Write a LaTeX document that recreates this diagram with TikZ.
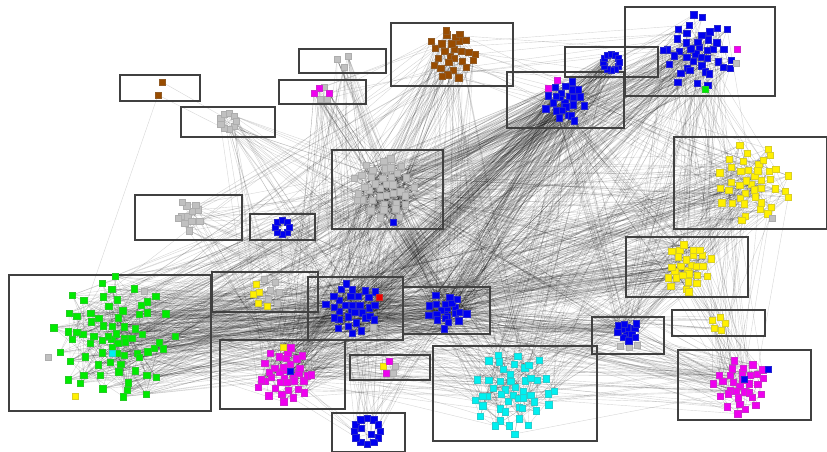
\documentclass[tikz,border=0pt]{standalone}
\definecolor{nbrown}{RGB}{153,76,0}
\definecolor{ngreen}{RGB}{0,235,0}
\definecolor{nblue}{RGB}{0,0,240}
\definecolor{nyellow}{RGB}{255,240,0}
\definecolor{nmag}{RGB}{240,0,240}
\definecolor{ncyan}{RGB}{0,240,240}
\definecolor{ngray}{RGB}{192,192,192}
\definecolor{nred}{RGB}{240,0,0}
\pgfdeclarelayer{bg}
\pgfdeclarelayer{edges}
\pgfsetlayers{bg,edges,main}
% name cx cy rx ry from to color exponent  (sunflower spread with jitter)
\newcommand\cluster[9]{%
  \foreach \i in {#6,...,#7}{%
    \pgfmathsetmacro\tt{(\i-#6+0.6)/(#7-#6+1)}%
    \pgfmathsetmacro\rr{\tt^#9}%
    \pgfmathsetmacro\ang{\i*137.508+rnd*25}%
    \pgfmathsetmacro\jx{rand*2}%
    \pgfmathsetmacro\jy{rand*2}%
    \node[sq=#8] (#1-\i) at ({#2+#4*\rr*cos(\ang)+\jx},{#3+#5*\rr*sin(\ang)+\jy}) {};
  }%
}
\newcommand\ringpts[6]{%
  \foreach \i in {1,...,#5}{%
    \node[sq=#6] (#1-\i) at ({#2+#4*cos(360*\i/#5)},{#3+#4*sin(360*\i/#5)}) {};
  }%
}
\newcommand\setcount[2]{\expandafter\xdef\csname cn#1\endcsname{#2}}
\newcommand\links[3]{%
  \edef\na{\csname cn#1\endcsname}\edef\nb{\csname cn#2\endcsname}%
  \foreach \e in {1,...,#3}{%
    \pgfmathtruncatemacro\ia{random(1,\na)}%
    \pgfmathtruncatemacro\ib{random(1,\nb)}%
    \draw[edge] (#1-\ia.center) -- (#2-\ib.center);
  }%
}
\begin{document}
\begin{tikzpicture}[x=0.03cm,y=-0.03cm,
  sq/.style={rectangle,fill=#1,draw=#1!70!gray,line width=0.25pt,minimum size=0.19cm,inner sep=0pt},
  edge/.style={draw=black,draw opacity=0.16,line width=0.35pt},
  grp/.style={draw=black!75,line width=0.9pt}]
\pgfmathsetseed{11}
\useasboundingbox (0,0) rectangle (827,452);
\begin{pgfonlayer}{bg}
\fill[white] (0,0) rectangle (827,452);
\end{pgfonlayer}
% group boxes
\draw[grp] (120,75) rectangle (200,101);
\draw[grp] (181,107) rectangle (275,137);
\draw[grp] (299,49) rectangle (386,73);
\draw[grp] (279,80) rectangle (366,104);
\draw[grp] (391,23) rectangle (513,86);
\draw[grp] (507,72) rectangle (624,128);
\draw[grp] (565,47) rectangle (658,77);
\draw[grp] (625,7) rectangle (775,96);
\draw[grp] (674,137) rectangle (826.6,229);
\draw[grp] (332,150) rectangle (443,229);
\draw[grp] (135,195) rectangle (242,240);
\draw[grp] (250,214) rectangle (315,240);
\draw[grp] (626,237) rectangle (748,297);
\draw[grp] (9,275) rectangle (211,411);
\draw[grp] (212,272) rectangle (318,312);
\draw[grp] (308,277) rectangle (403,340);
\draw[grp] (403,287) rectangle (490,334);
\draw[grp] (592,317) rectangle (664,354);
\draw[grp] (672,310) rectangle (765,336);
\draw[grp] (220,340) rectangle (345,409);
\draw[grp] (350,355) rectangle (430,380);
\draw[grp] (433,346) rectangle (597,441);
\draw[grp] (678,350) rectangle (811,420);
\draw[grp] (332,413) rectangle (405,451.6);
% A
\node[sq=nbrown] (A-1) at (162,82) {};
\node[sq=nbrown] (A-2) at (158,95) {};
\setcount{A}{2}
% B
\ringpts{B}{228}{121}{8}{9}{ngray}
\setcount{B}{9}
% C
\node[sq=ngray] (C-1) at (337,59) {};
\node[sq=ngray] (C-2) at (348,56) {};
\node[sq=ngray] (C-3) at (344,67) {};
\setcount{C}{3}
% D
\node[sq=ngray] (D-1) at (324,87) {};
\node[sq=ngray] (D-2) at (320,99) {};
\node[sq=ngray] (D-3) at (327,99) {};
\node[sq=nmag] (D-4) at (319,88) {};
\node[sq=nmag] (D-5) at (314,93) {};
\node[sq=nmag] (D-6) at (329,93) {};
\setcount{D}{6}
% E
\cluster{E}{452}{54}{25}{26}{1}{28}{nbrown}{0.6}
\setcount{E}{28}
% F
\cluster{F}{566}{101}{21}{21}{1}{24}{nblue}{0.6}
\node[sq=nmag] (F-m1) at (557,80) {};
\node[sq=nmag] (F-m2) at (548,88) {};
\setcount{F}{24}
% G
\ringpts{G}{611}{62}{8}{12}{nblue}
\setcount{G}{12}
% H
\cluster{H}{698}{52}{37}{38}{1}{42}{nblue}{0.65}
\node[sq=nmag] (H-m) at (737,49) {};
\node[sq=ngray] (H-g) at (736,63) {};
\node[sq=ngreen] (H-n) at (705,89) {};
\setcount{H}{42}
% I
\cluster{I}{752}{183}{38}{40}{1}{42}{nyellow}{0.65}
\node[sq=ngray] (I-g) at (772,218) {};
\setcount{I}{42}
% J
\cluster{J}{384}{188}{32}{32}{1}{38}{ngray}{0.6}
\node[sq=nblue] (J-b) at (393,222) {};
\setcount{J}{38}
% K
\cluster{K}{189}{216}{15}{15}{1}{12}{ngray}{0.6}
\setcount{K}{12}
% L
\ringpts{L}{282}{227}{7}{8}{nblue}
\setcount{L}{8}
% M
\cluster{M}{688}{268}{24}{25}{1}{28}{nyellow}{0.6}
\setcount{M}{28}
% N
\cluster{N}{115}{338}{62}{64}{1}{72}{ngreen}{0.75}
\node[sq=ngray] (N-g1) at (144,291) {};
\node[sq=ngray] (N-g2) at (48,357) {};
\node[sq=ncyan] (N-c) at (112,353) {};
\node[sq=nyellow] (N-y) at (75,396) {};
\setcount{N}{72}
% O
\node[sq=ngray] (O-1) at (264,279) {};
\node[sq=ngray] (O-2) at (275,282) {};
\node[sq=ngray] (O-3) at (270,290) {};
\node[sq=ngray] (O-4) at (279,292) {};
\node[sq=ngray] (O-5) at (268,299) {};
\node[sq=ngray] (O-6) at (277,303) {};
\node[sq=nyellow] (O-7) at (256,284) {};
\node[sq=nyellow] (O-8) at (253,294) {};
\node[sq=nyellow] (O-9) at (259,292) {};
\node[sq=nyellow] (O-10) at (258,303) {};
\node[sq=nyellow] (O-11) at (267,306) {};
\setcount{O}{11}
% P
\cluster{P}{352}{308}{28}{27}{1}{32}{nblue}{0.6}
\node[sq=nred] (P-r) at (379,297) {};
\node[sq=ngray] (P-g) at (373,327) {};
\setcount{P}{32}
% Q
\cluster{Q}{446}{311}{20}{18}{1}{22}{nblue}{0.6}
\setcount{Q}{22}
% R
\node[sq=ngray] (R-g1) at (620,346) {};
\node[sq=ngray] (R-g2) at (629,347) {};
\node[sq=ngray] (R-g3) at (637,345) {};
\cluster{R}{628}{331}{13}{10}{1}{12}{nblue}{0.6}
\setcount{R}{12}
% S
\node[sq=nyellow] (S-1) at (712,320) {};
\node[sq=nyellow] (S-2) at (720,317) {};
\node[sq=nyellow] (S-3) at (725,323) {};
\node[sq=nyellow] (S-4) at (714,328) {};
\node[sq=nyellow] (S-5) at (721,330) {};
\setcount{S}{5}
% T
\cluster{T}{285}{376}{29}{28}{1}{36}{nmag}{0.6}
\node[sq=nblue] (T-b) at (290,371) {};
\node[sq=nyellow] (T-y) at (283,347) {};
\setcount{T}{36}
% U
\node[sq=ngray] (U-1) at (395,366) {};
\node[sq=ngray] (U-2) at (393,373) {};
\node[sq=nyellow] (U-3) at (383,366) {};
\node[sq=nmag] (U-4) at (389,361) {};
\node[sq=nmag] (U-5) at (386,373) {};
\setcount{U}{5}
% V
\cluster{V}{513}{392}{42}{43}{1}{48}{ncyan}{0.65}
\setcount{V}{48}
% W
\cluster{W}{741}{385}{28}{28}{1}{32}{nmag}{0.6}
\node[sq=nblue] (W-b1) at (768,369) {};
\node[sq=nblue] (W-b2) at (744,379) {};
\setcount{W}{32}
% X
\ringpts{X}{367}{431}{13}{12}{nblue}
\node[sq=nblue] (X-13) at (361,428) {};
\node[sq=nblue] (X-14) at (371,434) {};
\setcount{X}{14}
% edges
\begin{pgfonlayer}{edges}
\foreach \a/\b/\m in {N/N/200,V/V/90,J/J/60,H/H/70,I/I/60,E/E/40,T/T/50,W/W/40,M/M/40,P/P/40,Q/Q/30,F/F/30,G/G/10,K/K/10,B/B/8,R/R/10,X/X/8,
 N/P/90,N/Q/80,N/J/30,N/F/25,N/H/25,N/I/25,N/M/30,N/R/20,N/V/15,N/O/25,N/T/15,N/W/10,N/G/10,N/E/10,
 J/P/30,J/Q/30,J/F/30,J/H/30,J/I/25,J/M/20,J/E/20,J/T/20,J/V/15,J/K/10,J/B/10,J/C/8,J/D/8,J/W/10,J/R/10,J/X/8,J/G/15,
 F/P/40,F/Q/40,F/T/25,F/V/15,F/R/15,F/M/15,F/I/15,F/E/10,F/H/20,
 G/P/25,G/Q/25,G/T/10,G/V/10,
 H/P/30,H/Q/30,H/T/15,H/M/20,H/I/15,H/V/15,H/R/15,H/W/10,H/E/10,
 I/P/25,I/Q/25,I/T/10,I/M/25,I/R/10,I/W/10,I/V/10,
 M/P/25,M/Q/25,M/T/10,M/R/15,M/W/15,M/S/8,M/V/10,
 E/P/15,E/Q/15,E/T/15,E/V/10,E/K/5,E/D/5,
 D/P/10,D/Q/10,D/T/8,D/V/5,C/P/8,C/Q/8,C/T/5,
 B/P/8,B/T/8,B/Q/6,K/P/6,K/T/6,K/Q/5,L/P/5,L/Q/5,L/T/4,
 T/P/20,T/Q/20,T/V/10,T/W/8,V/P/15,V/Q/15,V/R/10,V/W/10,
 W/P/15,W/Q/15,W/R/10,W/S/8,R/P/15,R/Q/15,X/P/10,X/Q/8,X/T/5,
 O/P/10,O/Q/10,O/J/5,U/P/5,U/Q/5,U/T/4,P/Q/20,S/P/5,S/Q/5,S/I/5,A/J/2,A/N/1}{%
  \links{\a}{\b}{\m}%
}
\end{pgfonlayer}
\end{tikzpicture}
\end{document}
